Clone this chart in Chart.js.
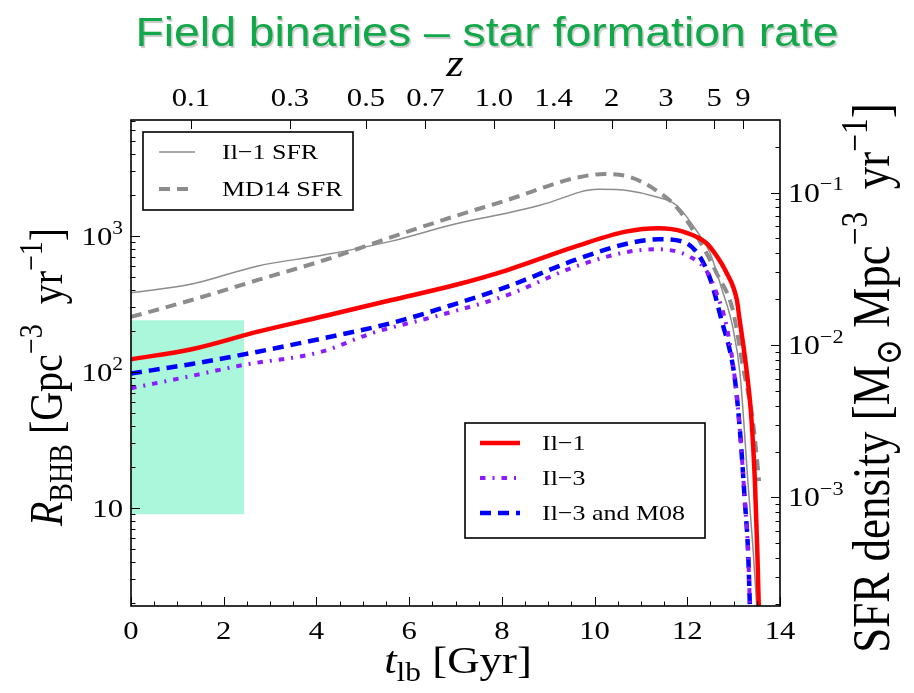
<!DOCTYPE html>
<html>
<head>
<meta charset="utf-8">
<script src="https://cdn.jsdelivr.net/npm/chart.js@4.4.0/dist/chart.umd.min.js"></script>
<style>
  html, body { margin: 0; padding: 0; background: #fff; }
  #wrap { width: 914px; height: 693px; position: relative; }
</style>
</head>
<body>
<div id="wrap"><canvas id="rateChart" width="914" height="693"></canvas></div>
<script>
// lookback time [Gyr] and values for each curve
const il1SfrT = [0, 1.31, 2.74, 4.18, 5.62, 6.99, 8.12, 8.84, 10.08, 10.74, 11.32, 11.76, 12.19, 12.49, 12.75, 12.98, 13.14, 13.31, 13.42, 13.52];
const il1Sfr = [0.0220, 0.0251, 0.0330, 0.0390, 0.0480, 0.0621, 0.0734, 0.0828, 0.105, 0.1028, 0.0939, 0.0828, 0.0568, 0.0401, 0.0230, 0.0131, 0.00636, 0.00124, 0.000453, 0.00015];

const md14T = [0, 1.31, 2.74, 4.18, 5.62, 6.99, 8.12, 9.58, 10.22, 10.74, 11.32, 11.76, 12.19, 12.63, 12.98, 13.2, 13.42, 13.55];
const md14Sfr = [0.01527, 0.01972, 0.0267, 0.0361, 0.0510, 0.0700, 0.0893, 0.1245, 0.1322, 0.127, 0.1038, 0.0807, 0.0526, 0.0297, 0.0170, 0.00721, 0.00308, 0.00128];

const il1T = [0, 1.31, 2.74, 4.18, 5.62, 6.99, 8.12, 9.58, 10.67, 11.39, 11.91, 12.41, 12.62, 12.83, 13.07, 13.12, 13.27, 13.38, 13.46, 13.51, 13.55];
const il1Rate = [124, 147, 198, 258, 338, 436, 562, 834, 1076, 1140, 1076, 889, 724, 550, 338, 255, 109, 47, 15.3, 4.9, 1.5];

const il3T = [0, 1.2, 2.42, 4.08, 5.22, 6.67, 8.12, 9.58, 10.74, 11.39, 12.05, 12.4, 12.63, 12.85, 13.03, 13.14, 13.24, 13.31, 13.36];
const il3Rate = [76, 91.9, 112.5, 140, 194, 262, 368, 595, 767, 798, 705, 562, 381, 215, 87, 35.6, 11.4, 4.9, 1.5];

const il3m08T = [0, 1.31, 2.74, 4.18, 5.62, 6.99, 8.12, 9.58, 10.74, 11.39, 11.91, 12.27, 12.51, 12.75, 12.94, 13.03, 13.14, 13.24, 13.31, 13.36];
const il3m08Rate = [97.5, 114.5, 141, 178, 229, 316, 424, 666, 884, 946, 908, 705, 467, 233, 133, 87, 35.6, 11.4, 4.9, 1.5];

// observed local rate band
const bandT = [0, 2.44];
const bandRate = [9, 240];

// redshift ticks on the top axis and their lookback times
const zLabels = ['0.1', '0.3', '0.5', '0.7', '1.0', '1.4', '2', '3', '5', '9'];
const zLookback = [1.29, 3.43, 5.07, 6.35, 7.83, 9.12, 10.37, 11.54, 12.58, 13.2];

const rateTicks = [10, 100, 1000];
const rateTickLabels = [['10', ''], ['10', '2'], ['10', '3']];
const sfrTicks = [0.001, 0.01, 0.1];
const sfrTickLabels = [['10', '−3'], ['10', '−2'], ['10', '−1']];

const pts = (xs, ys) => xs.map((x, i) => ({ x: x, y: ys[i] }));

const SERIF = '"Liberation Serif", "DejaVu Serif", serif';
const SX = 1.18; // text is a bit wide in this figure

function segFont(s, size) {
  const px = (s.sub || s.sup) ? size * 0.7 : size;
  return (s.it ? 'italic ' : '') + px.toFixed(1) + 'px ' + SERIF;
}

function drawRich(ctx, segs, x, y, size, align, rotated) {
  ctx.save();
  ctx.translate(x, y);
  if (rotated) { ctx.rotate(-Math.PI / 2); ctx.scale(1, SX); } else { ctx.scale(SX, 1); }
  let w = 0;
  segs.forEach(s => { ctx.font = segFont(s, size); w += ctx.measureText(s.t).width; });
  let cx = align === 'center' ? -w / 2 : align === 'right' ? -w : 0;
  ctx.textAlign = 'left';
  ctx.textBaseline = 'alphabetic';
  ctx.fillStyle = '#000';
  segs.forEach(s => {
    ctx.font = segFont(s, size);
    const dy = s.sub ? size * 0.22 : s.sup ? -size * 0.42 : 0;
    ctx.fillText(s.t, cx, dy);
    cx += ctx.measureText(s.t).width;
  });
  ctx.restore();
}

function drawLegend(ctx, chart, box, items) {
  ctx.save();
  ctx.fillStyle = '#fff';
  ctx.fillRect(box.x, box.y, box.w, box.h);
  ctx.strokeStyle = '#000';
  ctx.lineWidth = 1.6;
  ctx.strokeRect(box.x, box.y, box.w, box.h);
  items.forEach((it, i) => {
    const ds = chart.data.datasets[it.index];
    const y = box.y + box.first + i * box.step;
    ctx.save();
    ctx.strokeStyle = ds.borderColor;
    ctx.lineWidth = ds.borderWidth;
    ctx.setLineDash(ds.borderDash || []);
    ctx.beginPath();
    ctx.moveTo(box.x + box.lineX0, y);
    ctx.lineTo(box.x + box.lineX1, y);
    ctx.stroke();
    ctx.restore();
    drawRich(ctx, [{ t: ds.label }], box.x + box.textX, y + 7, box.size, 'left', false);
  });
  ctx.restore();
}

const framePlugin = {
  id: 'frame',
  afterDraw(chart) {
    const { ctx, chartArea: a, scales } = chart;
    const sx = scales.x, sy = scales.y, sy2 = scales.y2;

    // slide heading
    ctx.save();
    ctx.translate(487, 46);
    ctx.scale(1.13, 1);
    ctx.font = '41px "Liberation Sans", Arial, sans-serif';
    ctx.textAlign = 'center';
    ctx.textBaseline = 'alphabetic';
    ctx.shadowColor = 'rgba(0,0,0,0.22)';
    ctx.shadowOffsetX = 1.5;
    ctx.shadowOffsetY = 1.5;
    ctx.shadowBlur = 1;
    ctx.fillStyle = '#11a84a';
    ctx.fillText('Field binaries – star formation rate', 0, 0);
    ctx.restore();

    // frame and inward ticks
    ctx.save();
    ctx.strokeStyle = '#000';
    ctx.lineWidth = 1.6;
    ctx.strokeRect(a.left, a.top, a.width, a.height);
    ctx.lineWidth = 1;
    ctx.beginPath();
    for (let t = 0; t <= 14.001; t += 0.5) {
      const px = Math.round(sx.getPixelForValue(t)) + 0.5;
      const len = Math.abs(t % 2) < 1e-6 ? 9 : 4.5;
      ctx.moveTo(px, a.bottom); ctx.lineTo(px, a.bottom - len);
    }
    zLookback.forEach(t => {
      const px = Math.round(sx.getPixelForValue(t)) + 0.5;
      ctx.moveTo(px, a.top); ctx.lineTo(px, a.top + 9);
    });
    for (let d = 1; d <= 1000; d *= 10) {
      for (let k = 1; k < 10; k++) {
        const v = k * d;
        if (v < sy.min || v > sy.max) continue;
        const py = Math.round(sy.getPixelForValue(v)) + 0.5;
        ctx.moveTo(a.left, py); ctx.lineTo(a.left + (k === 1 ? 9 : 4.5), py);
      }
    }
    for (let d = 1e-4; d <= 0.11; d *= 10) {
      for (let k = 1; k < 10; k++) {
        const v = k * d;
        if (v < sy2.min || v > sy2.max) continue;
        const py = Math.round(sy2.getPixelForValue(v)) + 0.5;
        ctx.moveTo(a.right, py); ctx.lineTo(a.right - (k === 1 ? 9 : 4.5), py);
      }
    }
    ctx.stroke();
    ctx.restore();

    // tick labels
    for (let t = 0; t <= 14; t += 2) {
      drawRich(ctx, [{ t: String(t) }], sx.getPixelForValue(t), 639, 26, 'center', false);
    }
    zLookback.forEach((t, i) => {
      drawRich(ctx, [{ t: zLabels[i] }], sx.getPixelForValue(t), 106, 26, 'center', false);
    });
    rateTicks.forEach((v, i) => {
      const segs = [{ t: rateTickLabels[i][0] }];
      if (rateTickLabels[i][1]) segs.push({ t: rateTickLabels[i][1], sup: true });
      drawRich(ctx, segs, a.left - 8, sy.getPixelForValue(v) + 9, 26, 'right', false);
    });
    sfrTicks.forEach((v, i) => {
      drawRich(ctx, [{ t: sfrTickLabels[i][0] }, { t: sfrTickLabels[i][1], sup: true }],
        a.right + 8, sy2.getPixelForValue(v) + 9, 27, 'left', false);
    });

    // axis titles
    drawRich(ctx, [{ t: 't', it: true }, { t: 'lb', sub: true }, { t: ' [Gyr]' }], 458, 673, 38, 'center', false);
    drawRich(ctx, [{ t: 'z', it: true }], 455, 76, 38, 'center', false);
    drawRich(ctx, [{ t: 'R', it: true }, { t: 'BHB', sub: true }, { t: ' [Gpc' }, { t: '−3', sup: true },
      { t: '  yr' }, { t: '−1', sup: true }, { t: ']' }], 62, 377, 40, 'center', true);
    drawRich(ctx, [{ t: 'SFR density [M' }, { t: '⊙', sub: true }, { t: ' Mpc' }, { t: '−3', sup: true },
      { t: '  yr' }, { t: '−1', sup: true }, { t: ']' }], 889, 378, 45, 'center', true);

    // legends
    drawLegend(ctx, chart, { x: 143, y: 132, w: 210, h: 78, first: 20, step: 37, lineX0: 16, lineX1: 52, textX: 79, size: 22 },
      [{ index: 5 }, { index: 6 }]);
    drawLegend(ctx, chart, { x: 465, y: 423, w: 240, h: 115, first: 20, step: 35, lineX0: 15, lineX1: 55, textX: 77, size: 22 },
      [{ index: 2 }, { index: 3 }, { index: 4 }]);
  }
};

const line = (label, data, axis, color, width, dash) => ({
  label: label,
  data: data,
  yAxisID: axis,
  borderColor: color,
  backgroundColor: color,
  borderWidth: width,
  borderDash: dash,
  pointRadius: 0,
  fill: false,
  cubicInterpolationMode: 'monotone'
});

new Chart(document.getElementById('rateChart').getContext('2d'), {
  type: 'line',
  data: {
    datasets: [
      { label: 'band top', data: pts(bandT, [bandRate[1], bandRate[1]]), yAxisID: 'y', borderWidth: 0, pointRadius: 0, fill: false, order: 10 },
      { label: 'band bottom', data: pts(bandT, [bandRate[0], bandRate[0]]), yAxisID: 'y', borderWidth: 0, pointRadius: 0,
        fill: '-1', backgroundColor: 'rgb(170,247,219)', order: 10 },
      line('Il−1', pts(il1T, il1Rate), 'y', '#ff0000', 4.5, []),
      line('Il−3', pts(il3T, il3Rate), 'y', '#8c1cff', 4, [5.5, 7, 2, 7]),
      line('Il−3 and M08', pts(il3m08T, il3m08Rate), 'y', '#0000ff', 4.5, [11, 7]),
      line('Il−1 SFR', pts(il1SfrT, il1Sfr), 'y2', '#8c8c8c', 1.5, []),
      line('MD14 SFR', pts(md14T, md14Sfr), 'y2', '#8c8c8c', 4, [11, 7])
    ]
  },
  options: {
    responsive: false,
    animation: false,
    layout: { padding: { left: 131, top: 120, right: 134, bottom: 87 } },
    plugins: { legend: { display: false }, tooltip: { enabled: false } },
    scales: {
      x: { type: 'linear', min: 0, max: 14, display: false },
      y: { type: 'logarithmic', min: 1.9, max: 7130, display: false },
      y2: { type: 'logarithmic', min: 0.000194, max: 0.299, display: false }
    }
  },
  plugins: [framePlugin]
});
</script>
</body>
</html>
